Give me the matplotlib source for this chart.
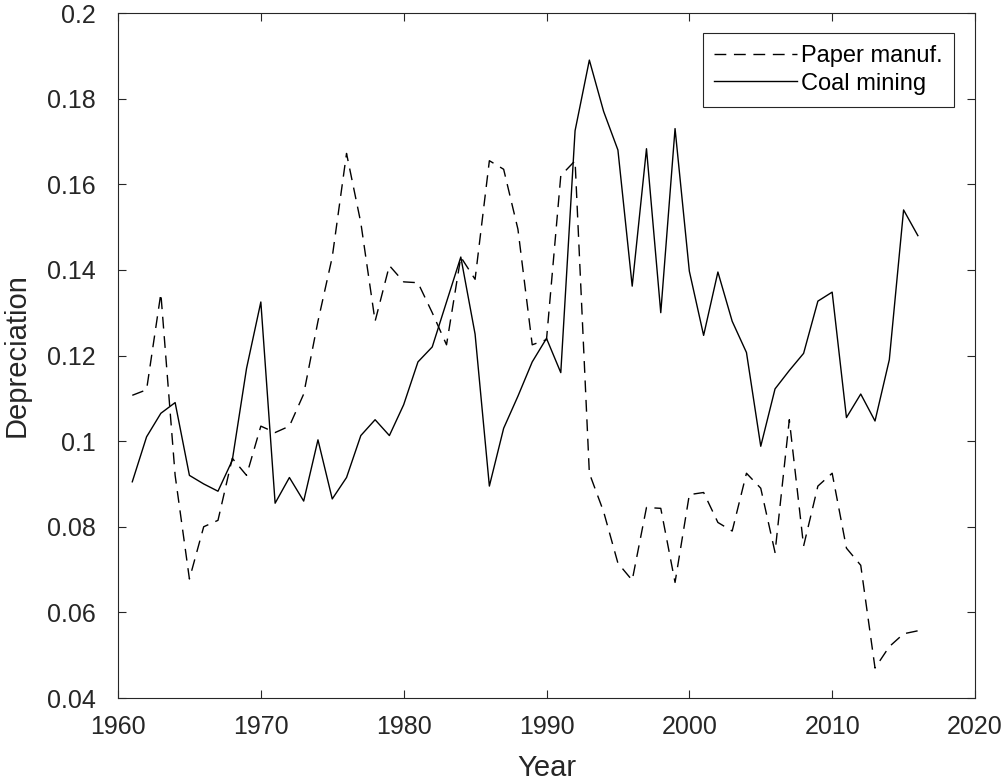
import matplotlib
matplotlib.use("Agg")
import matplotlib.pyplot as plt
import numpy as np

plt.rcParams["font.family"] = ["Liberation Sans", "DejaVu Sans"]

# Data
years = np.arange(1961, 2017)

paper = [0.1107, 0.1120, 0.1345, 0.0920, 0.0678, 0.0800, 0.0815, 0.0960, 0.0920, 0.1035,
         0.1020, 0.1035, 0.1110, 0.1280, 0.1430, 0.1672, 0.1510, 0.1280, 0.1410, 0.1372,
         0.1370, 0.1300, 0.1225, 0.1430, 0.1378, 0.1655, 0.1635, 0.1495, 0.1225, 0.1237,
         0.1620, 0.1655, 0.0925, 0.0835, 0.0715, 0.0675, 0.0845, 0.0843, 0.0670, 0.0875,
         0.0880, 0.0810, 0.0790, 0.0925, 0.0890, 0.0740, 0.1050, 0.0755, 0.0895, 0.0925,
         0.0750, 0.0710, 0.0470, 0.0520, 0.0550, 0.0557]

coal = [0.0905, 0.1010, 0.1065, 0.1090, 0.0920, 0.0900, 0.0883, 0.0955, 0.1170, 0.1325,
        0.0855, 0.0915, 0.0860, 0.1003, 0.0865, 0.0915, 0.1013, 0.1050, 0.1013, 0.1085,
        0.1185, 0.1220, 0.1325, 0.1430, 0.1250, 0.0895, 0.1030, 0.1105, 0.1185, 0.1240,
        0.1160, 0.1725, 0.1890, 0.1770, 0.1680, 0.1362, 0.1683, 0.1300, 0.1730, 0.1397,
        0.1247, 0.1395, 0.1280, 0.1207, 0.0988, 0.1122, 0.1165, 0.1205, 0.1327, 0.1348,
        0.1055, 0.1110, 0.1047, 0.1190, 0.1540, 0.1480]

fig = plt.figure(figsize=(10.03, 7.82), dpi=100)
ax = fig.add_axes([118 / 1003, 1 - 698 / 782, (975 - 118) / 1003, (698 - 13) / 782])

ax.plot(years, paper, color="black", linestyle=(0, (8.5, 5.5)), linewidth=1.0, label="Paper manuf.")
ax.plot(years, coal, color="black", linestyle="-", linewidth=1.0, label="Coal mining")

ax.set_xlim(1960, 2020)
ax.set_ylim(0.04, 0.2)
ax.set_xticks(np.arange(1960, 2021, 10))
ax.set_yticks(np.arange(0.04, 0.2001, 0.02))
ax.set_yticklabels(["0.04", "0.06", "0.08", "0.1", "0.12", "0.14", "0.16", "0.18", "0.2"])

ax.tick_params(direction="in", top=True, right=True, labelsize=18, length=6, width=0.8,
               colors="#262626", labelcolor="#262626")
ax.tick_params(axis="x", pad=12)
ax.tick_params(axis="y", pad=16)
for s in ax.spines.values():
    s.set_color("#262626")
    s.set_linewidth(0.8)

ax.set_xlabel("Year", fontsize=21, labelpad=11, color="#262626")
ax.set_ylabel("Depreciation", fontsize=21, labelpad=12, color="#262626")

leg = ax.legend(loc="upper right", fontsize=17, fancybox=False, edgecolor="#262626",
                framealpha=1, handlelength=3.5, handletextpad=0.15, borderpad=0.5,
                labelspacing=0.25, borderaxespad=0, bbox_to_anchor=(0.9755, 0.9708))
leg.get_frame().set_linewidth(0.8)

fig.savefig("out.png", dpi=100)
